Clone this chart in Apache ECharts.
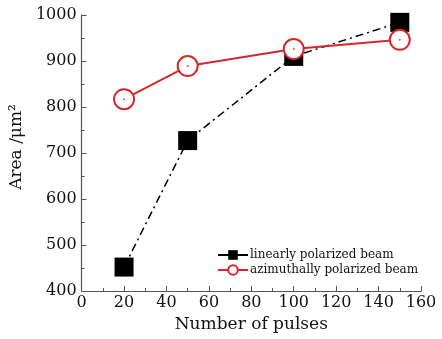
<!DOCTYPE html>
<html><head><meta charset="utf-8">
<script src="https://cdn.jsdelivr.net/npm/echarts@6/dist/echarts.min.js"></script>
<style>html,body{margin:0;padding:0;background:#fff}#c{width:442px;height:339px}</style>
</head><body><div id="c"></div>
<script>
const pulses = [20, 50, 100, 150];
const linearArea = [452, 727, 910, 984];
const azimuthalArea = [817, 889, 926, 946];
const xTicks = [0, 20, 40, 60, 80, 100, 120, 140, 160];
const yTicks = [400, 500, 600, 700, 800, 900, 1000];
const seriesNames = ['linearly polarized beam', 'azimuthally polarized beam'];

const FONT = 'DejaVu Serif';
const RED = '#d3282d';
const pair = (xs, ys) => xs.map((x, i) => [x, ys[i]]);

const chart = echarts.init(document.getElementById('c'));
chart.setOption({
  animation: false,
  grid: { left: 81, right: 21, top: 15, bottom: 48 },
  xAxis: {
    type: 'value', min: xTicks[0], max: xTicks[xTicks.length - 1], interval: 20,
    name: 'Number of pulses', nameLocation: 'middle', nameGap: 24,
    nameTextStyle: { fontFamily: FONT, fontSize: 17, color: '#111' },
    axisLine: { show: true, lineStyle: { color: '#555', width: 1.2 } },
    axisTick: { show: true, inside: true, length: 5, lineStyle: { color: '#555' } },
    minorTick: { show: true, splitNumber: 2, length: 3, lineStyle: { color: '#555' } },
    axisLabel: { fontFamily: FONT, fontSize: 16, color: '#111', margin: 4, formatter: v => String(v) },
    splitLine: { show: false }
  },
  yAxis: {
    type: 'value', min: yTicks[0], max: yTicks[yTicks.length - 1], interval: 100,
    name: 'Area /μm²', nameLocation: 'middle', nameGap: 53,
    nameTextStyle: { fontFamily: FONT, fontSize: 17, color: '#111', padding: [0, 0, 0, 12] },
    axisLine: { show: true, lineStyle: { color: '#555', width: 1.2 } },
    axisTick: { show: true, inside: true, length: 5, lineStyle: { color: '#555' } },
    minorTick: { show: true, splitNumber: 2, length: 3, lineStyle: { color: '#555' } },
    axisLabel: { fontFamily: FONT, fontSize: 16, color: '#111', margin: 5, formatter: v => String(v) },
    splitLine: { show: false }
  },
  legend: {
    left: 212, top: 244, orient: 'vertical', itemGap: 3, itemWidth: 30, itemHeight: 12,
    textStyle: { fontFamily: FONT, fontSize: 12, color: '#111', padding: [0, 0, 0, -3] },
    data: [
      { name: seriesNames[0], lineStyle: { type: 'solid', width: 2 } },
      { name: seriesNames[1] }
    ]
  },
  series: [
    {
      name: seriesNames[0], type: 'line', data: pair(pulses, linearArea),
      symbol: 'rect', symbolSize: 19, z: 2,
      itemStyle: { color: '#000' },
      lineStyle: { color: '#000', width: 1.5, type: [8, 4, 2, 4] }
    },
    {
      name: seriesNames[1], type: 'line', data: pair(pulses, azimuthalArea),
      symbol: 'emptyCircle', symbolSize: 20, z: 3,
      itemStyle: { color: RED, borderWidth: 1.6, borderColor: RED },
      lineStyle: { color: RED, width: 2 }
    },
    {
      name: 'center', type: 'scatter', data: pair(pulses, azimuthalArea),
      symbol: 'circle', symbolSize: 2, z: 4, silent: true,
      itemStyle: { color: RED }
    }
  ]
});
</script></body></html>
